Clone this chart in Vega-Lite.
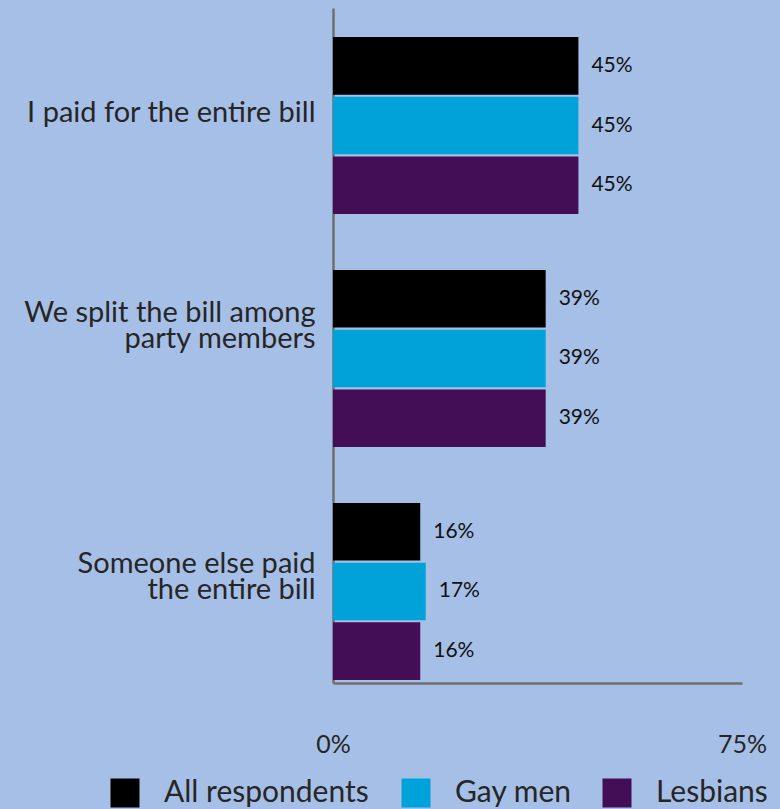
{
  "$schema": "https://vega.github.io/schema/vega-lite/v6.json",
  "width": 409,
  "height": 675,
  "autosize": {"type": "none"},
  "padding": {"left": 333, "top": 8, "right": 38, "bottom": 126},
  "background": "#a6bfe6",
  "config": {
    "view": {"stroke": null},
    "font": "Lato",
    "legend": {
      "title": null,
      "orient": "none",
      "direction": "horizontal",
      "legendY": 770,
      "symbolType": "square",
      "symbolSize": 841,
      "symbolStrokeWidth": 0,
      "symbolOpacity": 1,
      "labelFontSize": 30,
      "labelColor": "#262626",
      "labelOffset": 24,
      "labelLimit": 400
    }
  },
  "data": {
    "values": [
      {"answer": "I paid for the entire bill", "group": "All respondents", "value": 45},
      {"answer": "I paid for the entire bill", "group": "Gay men", "value": 45},
      {"answer": "I paid for the entire bill", "group": "Lesbians", "value": 45},
      {"answer": "We split the bill among|party members", "group": "All respondents", "value": 39},
      {"answer": "We split the bill among|party members", "group": "Gay men", "value": 39},
      {"answer": "We split the bill among|party members", "group": "Lesbians", "value": 39},
      {"answer": "Someone else paid|the entire bill", "group": "All respondents", "value": 16},
      {"answer": "Someone else paid|the entire bill", "group": "Gay men", "value": 17},
      {"answer": "Someone else paid|the entire bill", "group": "Lesbians", "value": 16}
    ]
  },
  "encoding": {
    "y": {
      "field": "answer",
      "type": "nominal",
      "sort": null,
      "title": null,
      "scale": {"paddingInner": 0.24, "paddingOuter": 0.0687, "align": 0.906},
      "axis": {
        "domain": true,
        "domainColor": "#6f6f6f",
        "domainWidth": 2.5,
        "ticks": false,
        "labelPadding": 18,
        "labelFontSize": 29,
        "labelColor": "#262626",
        "labelBaseline": "middle",
        "labelOffset": {
          "condition": [
            {"test": "indexof(datum.value, 'split') >= 0", "value": -45},
            {"test": "indexof(datum.value, 'Someone') >= 0", "value": -27}
          ],
          "value": -13
        },
        "labelLineHeight": 26,
        "labelLimit": 400,
        "labelExpr": "split(datum.label, '|')"
      }
    },
    "yOffset": {
      "field": "group",
      "type": "nominal",
      "scale": {"domain": ["All respondents", "Gay men", "Lesbians"], "paddingInner": 0.035}
    },
    "x": {
      "field": "value",
      "type": "quantitative",
      "title": null,
      "scale": {"domain": [0, 75], "nice": false},
      "axis": {
        "values": [0, 75],
        "domain": true,
        "domainColor": "#6f6f6f",
        "domainWidth": 2.5,
        "ticks": false,
        "grid": false,
        "labelFlush": false,
        "labelPadding": 49,
        "labelFontSize": 25,
        "labelColor": "#262626",
        "labelExpr": "datum.value + '%'"
      }
    }
  },
  "layer": [
    {
      "transform": [{"filter": "datum.group == 'All respondents'"}],
      "mark": {"type": "bar"},
      "encoding": {
        "color": {
          "field": "group",
          "type": "nominal",
          "scale": {"domain": ["All respondents"], "range": ["#000000"]},
          "legend": {"legendX": -223}
        }
      }
    },
    {
      "transform": [{"filter": "datum.group == 'Gay men'"}],
      "mark": {"type": "bar"},
      "encoding": {
        "color": {
          "field": "group",
          "type": "nominal",
          "scale": {"domain": ["Gay men"], "range": ["#00a3d9"]},
          "legend": {"legendX": 68}
        }
      }
    },
    {
      "transform": [{"filter": "datum.group == 'Lesbians'"}],
      "mark": {"type": "bar"},
      "encoding": {
        "color": {
          "field": "group",
          "type": "nominal",
          "scale": {"domain": ["Lesbians"], "range": ["#430e55"]},
          "legend": {"legendX": 269}
        }
      }
    },
    {
      "mark": {"type": "text", "align": "left", "baseline": "middle", "dx": 13, "fontSize": 21, "color": "#111111", "text": {"expr": "datum.value + '%'"}},
      "encoding": {}
    }
  ],
  "resolve": {"scale": {"color": "independent"}, "legend": {"color": "independent"}}
}
